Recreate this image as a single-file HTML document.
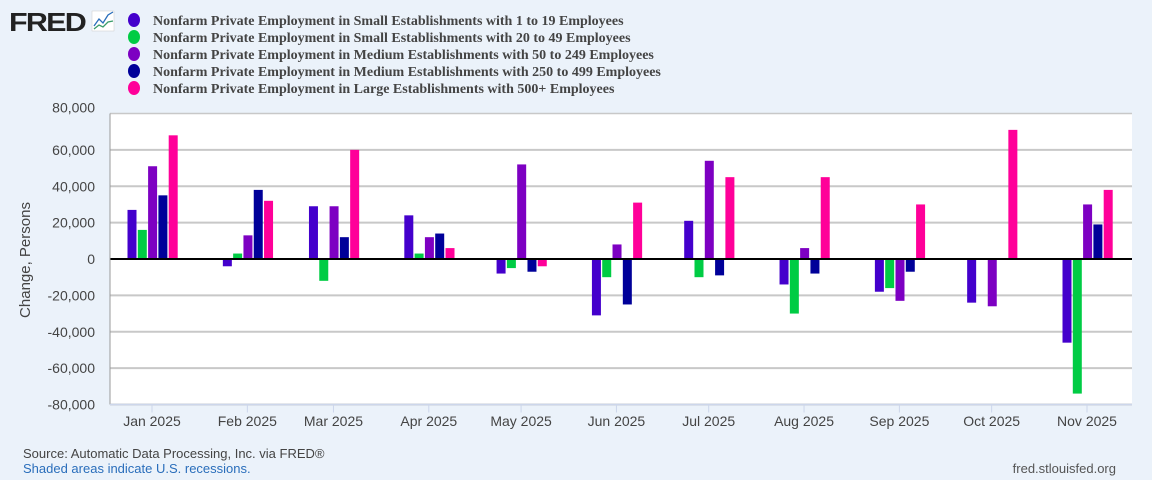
<!DOCTYPE html>
<html><head><meta charset="utf-8"><style>
html,body{margin:0;padding:0;background:#ebf2fa;width:1152px;height:480px;overflow:hidden;font-family:"Liberation Sans",sans-serif}
svg{display:block}
</style></head><body>
<svg width="1152" height="480" xmlns="http://www.w3.org/2000/svg">
<g>
<text x="9" y="31" font-family="Liberation Sans" font-weight="bold" font-size="26" fill="#222" letter-spacing="-1.5" textLength="76" lengthAdjust="spacingAndGlyphs">FRED</text>
<rect x="92" y="11" width="22" height="20" fill="#fff" stroke="#ccc" stroke-width="0.5"/>
<polyline points="94,26 99,19 103,23 108,15 113,12" fill="none" stroke="#2a6ebb" stroke-width="1.3"/>
<polyline points="94,29 99,25 103,27 108,22 113,21" fill="none" stroke="#3a9c6a" stroke-width="1.3"/>
</g>
<g id="legend"></g>
<g id="plot"></g>
<text transform="translate(30,260) rotate(-90)" text-anchor="middle" font-size="15" fill="#444">Change, Persons</text>
<text x="23" y="458" font-size="13" fill="#444">Source: Automatic Data Processing, Inc. via FRED®</text>
<text x="23" y="473" font-size="13" fill="#2a6ebb">Shaded areas indicate U.S. recessions.</text>
<text x="1116" y="473" font-size="13" fill="#555" text-anchor="end">fred.stlouisfed.org</text>
</svg>
<script>
const months=["Jan 2025","Feb 2025","Mar 2025","Apr 2025","May 2025","Jun 2025","Jul 2025","Aug 2025","Sep 2025","Oct 2025","Nov 2025"];
const dayOffsets=[0,31,59,90,120,151,181,212,243,273,304];
const seriesNames=["Nonfarm Private Employment in Small Establishments with 1 to 19 Employees","Nonfarm Private Employment in Small Establishments with 20 to 49 Employees","Nonfarm Private Employment in Medium Establishments with 50 to 249 Employees","Nonfarm Private Employment in Medium Establishments with 250 to 499 Employees","Nonfarm Private Employment in Large Establishments with 500+ Employees"];
const colors=["#4400cc","#00cc44","#7d00c2","#000099","#ff0099"];
const s1=[27000,-4000,29000,24000,-8000,-31000,21000,-14000,-18000,-24000,-46000];
const s2=[16000,3000,-12000,3000,-5000,-10000,-10000,-30000,-16000,0,-74000];
const s3=[51000,13000,29000,12000,52000,8000,54000,6000,-23000,-26000,30000];
const s4=[35000,38000,12000,14000,-7000,-25000,-9000,-8000,-7000,0,19000];
const s5=[68000,32000,60000,6000,-4000,31000,45000,45000,30000,71000,38000];
const yTicks=[80000,60000,40000,20000,0,-20000,-40000,-60000,-80000];
const series=[s1,s2,s3,s4,s5];
const NS="http://www.w3.org/2000/svg";
const L=110,R=1132,T=113.5,B=404.5;
const y=v=>T+(80000-v)/160000*(B-T);
const x=d=>152+d*(1087-152)/304;
const plot=document.getElementById('plot');
function mk(t,a,p){const e=document.createElementNS(NS,t);for(const k in a)e.setAttribute(k,a[k]);(p||plot).appendChild(e);return e;}
const bg=mk('rect',{x:L,y:T,width:R-L,height:B-T,fill:'#fff'});


yTicks.forEach(v=>{
  if(v!==0&&v!==80000){const g=mk('line',{x1:L,x2:R,y1:y(v),y2:y(v),stroke:'#c8c8c8','stroke-width':2});
  
  }
  const t=mk('text',{x:95,y:y(v)+(v===80000?-1:5),'text-anchor':'end','font-size':14,fill:'#444'});
  t.textContent=v.toLocaleString('en-US');
  
  
});
mk('line',{x1:L,x2:R,y1:T,y2:T,stroke:'#c8c8c8','stroke-width':1.5});
months.forEach((m,i)=>{
  const cx=x(dayOffsets[i]);
  series.forEach((s,j)=>{
    const v=s[i];const bx=cx-24.5+j*10.3;
    const r=mk('rect',{x:bx,y:Math.min(y(v),y(0)),width:9,height:Math.abs(y(v)-y(0)),fill:colors[j]});
    
    
  });
  mk('line',{x1:cx,x2:cx,y1:B,y2:B+8,stroke:'#ccd6eb'});
  const t=mk('text',{x:cx,y:426,'text-anchor':'middle','font-size':14,fill:'#444'});
  t.textContent=m;
  
  
});
mk('line',{x1:L,x2:R,y1:y(0),y2:y(0),stroke:'#000','stroke-width':2});
mk('line',{x1:L,x2:L,y1:T,y2:B,stroke:'#999','stroke-width':1});
mk('line',{x1:L,x2:R,y1:B,y2:B,stroke:'#ccd6eb','stroke-width':1.5});
const leg=document.getElementById('legend');
seriesNames.forEach((n,j)=>{
  const cy=20+j*17;
  const g=mk('g',{},leg);
  
  
  mk('ellipse',{cx:134,cy:cy,rx:6,ry:7,fill:colors[j]},g);
  const t=mk('text',{x:153,y:cy+5,'font-family':'Liberation Serif','font-weight':'bold','font-size':14,fill:'#444'},g);
  t.textContent=n;
});
</script>
</body></html>
